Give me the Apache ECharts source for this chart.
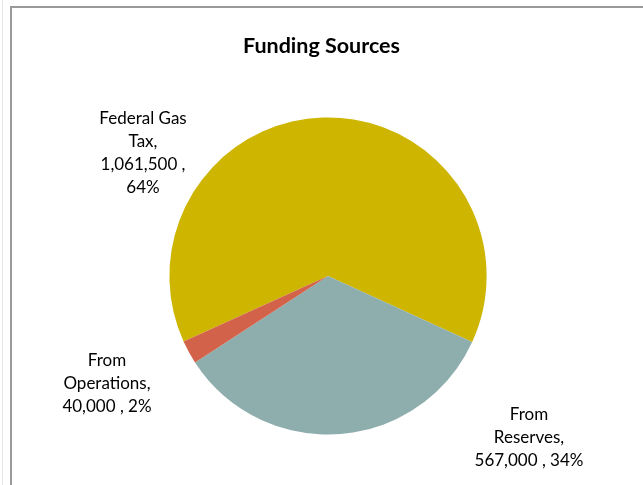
<!DOCTYPE html>
<html>
<head>
<meta charset="utf-8">
<script src="https://cdn.jsdelivr.net/npm/echarts@6/dist/echarts.min.js"></script>
<style>html,body{margin:0;padding:0;background:#fff;}#c{width:643px;height:485px;}</style>
</head>
<body>
<div id="c"></div>
<script>
const categories = ['Federal Gas Tax', 'From Reserves', 'From Operations'];
const values = [1061500, 567000, 40000];
const colors = ['#CDB500', '#8EAEAD', '#D2624A'];
const labelPos = [[143, 153], [529, 438], [107, 384]];

function fmt(n) { return n.toLocaleString('en-US'); }
function labelText(i, pct) {
  const v = fmt(values[i]);
  if (i === 0) return 'Federal Gas\nTax,\n' + v + ' ,\n' + pct + '%';
  if (i === 1) return 'From\nReserves,\n' + v + ' , ' + pct + '%';
  return 'From\nOperations,\n' + v + ' , ' + pct + '%';
}

const chart = echarts.init(document.getElementById('c'), null, {renderer: 'canvas'});
chart.setOption({
  animation: false,
  backgroundColor: '#fff',
  title: {
    text: 'Funding Sources',
    left: 'center',
    top: 30,
    textStyle: {fontFamily: 'Lato', fontWeight: 'bold', fontSize: 21.5, color: '#000'}
  },
  graphic: [
    {type: 'rect', shape: {x: 11, y: 7, width: 700, height: 600}, style: {fill: 'none', stroke: '#9a9a9a', lineWidth: 2}, z: 100},
    {type: 'line', shape: {x1: 2.5, y1: 0, x2: 2.5, y2: 485}, style: {stroke: '#e6e6e6', lineWidth: 1}, z: 100}
  ],
  series: [{
    type: 'pie',
    center: [328, 276],
    radius: [0, 158.6],
    startAngle: 204.4,
    clockwise: true,
    avoidLabelOverlap: false,
    data: categories.map((c, i) => ({name: c, value: values[i], itemStyle: {color: colors[i]}})),
    itemStyle: {borderWidth: 0},
    emphasis: {disabled: true},
    label: {
      show: true,
      position: 'outside',
      fontFamily: 'Lato',
      fontSize: 17,
      lineHeight: 23,
      color: '#000',
      align: 'center',
      formatter: p => labelText(p.dataIndex, Math.round(p.percent))
    },
    labelLine: {show: false},
    labelLayout: p => ({x: labelPos[p.dataIndex][0], y: labelPos[p.dataIndex][1], align: 'center', verticalAlign: 'middle'})
  }]
});
</script>
</body>
</html>
